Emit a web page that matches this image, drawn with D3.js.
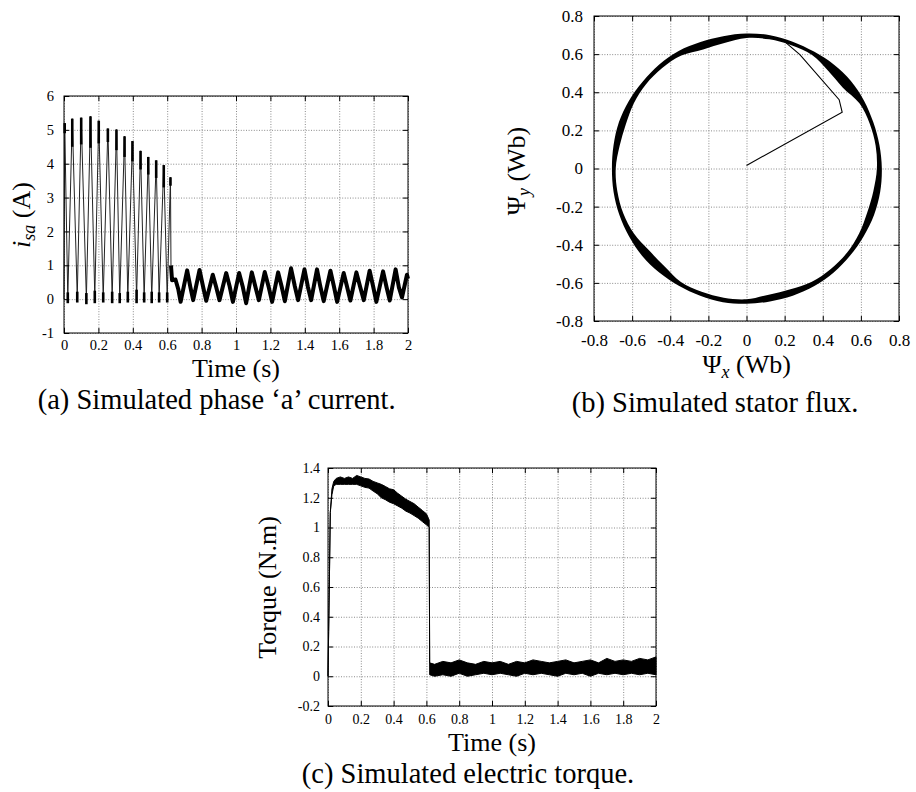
<!DOCTYPE html>
<html>
<head>
<meta charset="utf-8">
<script src="https://cdn.jsdelivr.net/npm/d3@7"></script>
<style>
body { margin: 0; background: #fff; }
svg { font-family: "Liberation Serif", "Times New Roman", Times, serif; }
</style>
</head>
<body>
<div id="chart"></div>
<script>
// (a) phase 'a' current, start-up part (peaks / troughs)
const curPeakT = [0.004, 0.048, 0.100, 0.154, 0.202, 0.255, 0.305, 0.352, 0.398, 0.445, 0.490, 0.536, 0.580, 0.619]
const curPeakV = [5.20, 5.33, 5.36, 5.40, 5.27, 5.04, 5.01, 4.81, 4.67, 4.38, 4.20, 4.10, 3.96, 3.60]
const curCapV = [4.90, 4.50, 4.57, 4.47, 4.60, 4.64, 4.40, 4.20, 4.07, 3.83, 3.68, 3.58, 3.30, 3.35]
const curTroughT = [0.022, 0.077, 0.130, 0.179, 0.228, 0.280, 0.324, 0.371, 0.422, 0.466, 0.510, 0.553, 0.600]
const curTroughLo = [-0.12, -0.10, -0.15, -0.12, -0.10, -0.12, -0.12, -0.10, -0.12, -0.10, -0.12, -0.10, -0.10]
const curTroughHi = [0.20, 0.22, 0.18, 0.25, 0.20, 0.22, 0.18, 0.22, 0.28, 0.20, 0.22, 0.20, 0.20]
// (a) steady part after 0.62 s
const curLateT = [0.622, 0.628, 0.648, 0.664, 0.678,
    0.716, 0.735, 0.751, 0.788, 0.808, 0.827, 0.865, 0.885, 0.904, 0.943, 0.963, 0.982,
    1.018, 1.040, 1.059, 1.092, 1.112, 1.133, 1.167, 1.190, 1.210, 1.245, 1.265, 1.284,
    1.320, 1.342, 1.361, 1.398, 1.418, 1.437, 1.471, 1.490, 1.510, 1.549, 1.570, 1.588,
    1.626, 1.645, 1.665, 1.700, 1.722, 1.743, 1.777, 1.797, 1.816, 1.855, 1.875, 1.894,
    1.928, 1.947, 1.965, 1.994, 2.000]
const curLateV = [1.00, 0.56, 0.58, 0.30, -0.08,
    0.85, 0.35, -0.03, 0.86, 0.38, -0.05, 0.72, 0.35, -0.03, 0.77, 0.38, -0.08,
    0.77, 0.35, -0.12, 0.79, 0.38, -0.03, 0.80, 0.36, -0.08, 0.79, 0.38, -0.06,
    0.91, 0.38, -0.03, 0.88, 0.36, -0.03, 0.88, 0.38, -0.06, 0.84, 0.36, -0.08,
    0.77, 0.38, -0.04, 0.79, 0.36, -0.03, 0.84, 0.38, -0.08, 0.82, 0.36, -0.04,
    0.88, 0.35, 0.05, 0.72, 0.60]

// (b) stator flux locus: outer / inner edge of the traced band, polar reading
const fluxAngle = [0, 10, 20, 30, 40, 50, 60, 70, 80, 90, 100, 110, 120, 130, 140, 150, 160, 170,
    180, 190, 200, 210, 220, 230, 240, 250, 260, 270, 280, 290, 300, 310, 320, 330, 340, 350]
const fluxOuter = [0.710, 0.708, 0.708, 0.712, 0.715, 0.712, 0.708, 0.708, 0.710, 0.708, 0.705, 0.706,
    0.712, 0.712, 0.710, 0.712, 0.712, 0.708, 0.706, 0.708, 0.710, 0.712, 0.714, 0.712,
    0.710, 0.710, 0.712, 0.710, 0.708, 0.710, 0.712, 0.712, 0.710, 0.710, 0.712, 0.712]
const fluxInner = [0.684, 0.688, 0.688, 0.684, 0.660, 0.668, 0.688, 0.688, 0.688, 0.684, 0.668, 0.665,
    0.684, 0.688, 0.688, 0.683, 0.674, 0.676, 0.686, 0.688, 0.688, 0.682, 0.668, 0.670,
    0.688, 0.688, 0.688, 0.686, 0.672, 0.674, 0.686, 0.688, 0.688, 0.682, 0.674, 0.676]
const fluxStartX = [0.0, 0.502, 0.486, 0.28, 0.20]
const fluxStartY = [0.016, 0.295, 0.361, 0.597, 0.666]

// (c) electric torque band (upper / lower edge)
const tqT = [0, 0.004, 0.008, 0.014, 0.024, 0.035, 0.05, 0.075, 0.1, 0.125, 0.15, 0.175, 0.2,
    0.225, 0.25, 0.275, 0.3, 0.325, 0.35, 0.375, 0.4, 0.425, 0.45, 0.475, 0.5, 0.525, 0.55,
    0.575, 0.6, 0.612, 0.617, 0.620,
    0.65, 0.7, 0.75, 0.8, 0.85, 0.9, 0.95, 1.0, 1.05, 1.1, 1.15, 1.2, 1.25, 1.3, 1.35, 1.4,
    1.45, 1.5, 1.55, 1.6, 1.65, 1.7, 1.75, 1.8, 1.85, 1.9, 1.95, 2.0]
const tqHi = [0, 0.3, 0.6, 1.1, 1.26, 1.31, 1.33, 1.34, 1.33, 1.34, 1.33, 1.35, 1.34,
    1.33, 1.326, 1.31, 1.30, 1.29, 1.276, 1.26, 1.254, 1.23, 1.21, 1.19, 1.175, 1.16, 1.137,
    1.115, 1.092, 1.063, 1.05, 0.09,
    0.08, 0.10, 0.09, 0.11, 0.09, 0.08, 0.10, 0.09, 0.10, 0.08, 0.10, 0.09, 0.11, 0.10, 0.09, 0.10,
    0.11, 0.09, 0.10, 0.11, 0.09, 0.12, 0.10, 0.11, 0.10, 0.12, 0.11, 0.13]
const tqLo = [0, 0.3, 0.6, 1.1, 1.22, 1.28, 1.29, 1.29, 1.29, 1.29, 1.29, 1.29, 1.28,
    1.27, 1.265, 1.245, 1.227, 1.20, 1.187, 1.17, 1.16, 1.145, 1.13, 1.11, 1.097, 1.08, 1.063,
    1.04, 1.018, 1.007, 1.0, 0.01,
    0.00, 0.01, 0.00, 0.02, 0.00, 0.01, 0.02, 0.01, 0.02, 0.01, 0.00, 0.02, 0.01, 0.02, 0.01, 0.00,
    0.02, 0.01, 0.02, 0.00, 0.02, 0.01, 0.02, 0.01, 0.02, 0.01, 0.02, 0.01]

// tick values
const timeTicks = [0, 0.2, 0.4, 0.6, 0.8, 1, 1.2, 1.4, 1.6, 1.8, 2]
const curTicks = [-1, 0, 1, 2, 3, 4, 5, 6]
const fluxTicks = [-0.8, -0.6, -0.4, -0.2, 0, 0.2, 0.4, 0.6, 0.8]
const tqTicks = [-0.2, 0, 0.2, 0.4, 0.6, 0.8, 1, 1.2, 1.4]

const width = 916, height = 792
const svg = d3.select('#chart').append('svg')
    .attr('width', width)
    .attr('height', height)

function panel(box, xDom, yDom, xTicks, yTicks, fontSize, padX, padY) {
    const x = d3.scaleLinear().domain(xDom).range([box.left, box.right])
    const y = d3.scaleLinear().domain(yDom).range([box.bottom, box.top])
    const h = box.bottom - box.top
    const w = box.right - box.left
    const g = svg.append('g')
    const fmt = d => String(d)

    // dotted grid
    g.append('g')
        .attr('transform', 'translate(0,' + box.bottom + ')')
        .call(d3.axisBottom(x).tickValues(xTicks).tickSize(-h).tickFormat(''))
        .call(a => a.select('.domain').remove())
        .selectAll('line').attr('stroke', '#8a8a8a').attr('stroke-dasharray', '1,1.6')
    g.append('g')
        .attr('transform', 'translate(' + box.left + ',0)')
        .call(d3.axisLeft(y).tickValues(yTicks).tickSize(-w).tickFormat(''))
        .call(a => a.select('.domain').remove())
        .selectAll('line').attr('stroke', '#8a8a8a').attr('stroke-dasharray', '1,1.6')

    const layer = g.append('g')

    // inward ticks on all four sides
    const bottom = g.append('g')
        .attr('transform', 'translate(0,' + box.bottom + ')')
        .call(d3.axisBottom(x).tickValues(xTicks).tickSize(-5).tickPadding(padX).tickFormat(fmt))
    const left = g.append('g')
        .attr('transform', 'translate(' + box.left + ',0)')
        .call(d3.axisLeft(y).tickValues(yTicks).tickSize(-5).tickPadding(padY).tickFormat(fmt))
    g.append('g')
        .attr('transform', 'translate(0,' + box.top + ')')
        .call(d3.axisTop(x).tickValues(xTicks).tickSize(-5).tickFormat(''))
    g.append('g')
        .attr('transform', 'translate(' + box.right + ',0)')
        .call(d3.axisRight(y).tickValues(yTicks).tickSize(-5).tickFormat(''))
    g.selectAll('.domain').remove()
    g.selectAll('.tick line').filter(function () { return this.getAttribute('stroke-dasharray') === null })
        .attr('stroke', '#000')
    ;[bottom, left].forEach(a => a
        .attr('font-family', null)
        .attr('font-size', fontSize)
        .selectAll('text').attr('fill', '#000'))

    g.append('rect')
        .attr('x', box.left)
        .attr('y', box.top)
        .attr('width', w)
        .attr('height', h)
        .attr('fill', 'none')
        .attr('stroke', '#000')
        .attr('stroke-width', 1)
    return { x, y, layer }
}

// ---------- (a) ----------
const pa = panel({ left: 64, right: 408, top: 96, bottom: 333 }, [0, 2], [-1, 6], timeTicks, curTicks, 14.5, 7, 10)
let curPts = [[0, 0]]
curPeakT.forEach((t, i) => {
    curPts.push([t, curPeakV[i]])
    if (i < curTroughT.length) curPts.push([curTroughT[i], (curTroughLo[i] + curTroughHi[i]) / 2])
})
curPts.push([curLateT[0], curLateV[0]])
pa.layer.append('path')
    .datum(curPts)
    .attr('d', d3.line().x(d => pa.x(d[0])).y(d => pa.y(d[1])))
    .attr('fill', 'none')
    .attr('stroke', '#222')
    .attr('stroke-width', 1)
pa.layer.selectAll('.cap')
    .data(curPeakT)
    .join('line')
    .attr('x1', d => pa.x(d)).attr('x2', d => pa.x(d))
    .attr('y1', (d, i) => pa.y(curCapV[i])).attr('y2', (d, i) => pa.y(curPeakV[i]))
    .attr('stroke', '#000')
    .attr('stroke-width', 2.6)
pa.layer.selectAll('.trough')
    .data(curTroughT)
    .join('line')
    .attr('x1', d => pa.x(d)).attr('x2', d => pa.x(d))
    .attr('y1', (d, i) => pa.y(curTroughLo[i])).attr('y2', (d, i) => pa.y(curTroughHi[i]))
    .attr('stroke', '#000')
    .attr('stroke-width', 2.6)
pa.layer.append('path')
    .datum(curLateT.map((t, i) => [t, curLateV[i]]))
    .attr('d', d3.line().x(d => pa.x(d[0])).y(d => pa.y(d[1])))
    .attr('fill', 'none')
    .attr('stroke', '#000')
    .attr('stroke-width', 4)
    .attr('stroke-linejoin', 'round')

svg.append('text')
    .attr('x', 236).attr('y', 377)
    .attr('text-anchor', 'middle')
    .attr('font-size', 26)
    .text('Time (s)')
const ya = svg.append('text')
    .attr('transform', 'translate(29.6,215) rotate(-90)')
    .attr('text-anchor', 'middle')
    .attr('font-size', 26)
ya.append('tspan').attr('font-style', 'italic').text('i')
ya.append('tspan').attr('font-style', 'italic').attr('font-size', 18).attr('dy', 5).text('sa')
ya.append('tspan').attr('dy', -5).text(' (A)')
svg.append('text')
    .attr('x', 216.7).attr('y', 409)
    .attr('text-anchor', 'middle')
    .attr('font-size', 28.5)
    .text('(a) Simulated phase ‘a’ current.')

// ---------- (b) ----------
const pb = panel({ left: 594, right: 899, top: 16, bottom: 321 }, [-0.8, 0.8], [-0.8, 0.8], fluxTicks, fluxTicks, 17, 13, 11)
const toXY = (r, a) => [r * Math.cos(a * Math.PI / 180), r * Math.sin(a * Math.PI / 180)]
const ringLine = d3.line().x(d => pb.x(d[0])).y(d => pb.y(d[1])).curve(d3.curveCardinalClosed)
const outerPts = fluxAngle.map((a, i) => toXY(fluxOuter[i], a))
const innerPts = fluxAngle.map((a, i) => toXY(fluxInner[i], a))
pb.layer.append('path')
    .attr('d', ringLine(outerPts) + ringLine(innerPts))
    .attr('fill', '#000')
    .attr('fill-rule', 'evenodd')
pb.layer.append('path')
    .datum(fluxStartX.map((v, i) => [v, fluxStartY[i]]))
    .attr('d', d3.line().x(d => pb.x(d[0])).y(d => pb.y(d[1])))
    .attr('fill', 'none')
    .attr('stroke', '#000')
    .attr('stroke-width', 1.1)

const xb = svg.append('text')
    .attr('x', 746.7).attr('y', 373)
    .attr('text-anchor', 'middle')
    .attr('font-size', 26)
xb.append('tspan').text('Ψ')
xb.append('tspan').attr('font-style', 'italic').attr('font-size', 18).attr('dy', 5).text('x')
xb.append('tspan').attr('dy', -5).text(' (Wb)')
const yb = svg.append('text')
    .attr('transform', 'translate(524.6,171) rotate(-90)')
    .attr('text-anchor', 'middle')
    .attr('font-size', 26)
yb.append('tspan').text('Ψ')
yb.append('tspan').attr('font-style', 'italic').attr('font-size', 18).attr('dy', 5).text('y')
yb.append('tspan').attr('dy', -5).text(' (Wb)')
svg.append('text')
    .attr('x', 715).attr('y', 412)
    .attr('text-anchor', 'middle')
    .attr('font-size', 28.5)
    .text('(b) Simulated stator flux.')

// ---------- (c) ----------
const pc = panel({ left: 328, right: 656, top: 468, bottom: 706 }, [0, 2], [-0.2, 1.4], timeTicks, tqTicks, 14, 8, 8)
const tqPts = tqT.map((t, i) => ({ t: t, hi: tqHi[i], lo: tqLo[i] }))
pc.layer.append('path')
    .datum(tqPts)
    .attr('d', d3.area().x(d => pc.x(d.t)).y0(d => pc.y(d.lo)).y1(d => pc.y(d.hi)))
    .attr('fill', '#000')
    .attr('stroke', '#000')
    .attr('stroke-width', 1)
    .attr('stroke-linejoin', 'round')

svg.append('text')
    .attr('x', 492).attr('y', 751)
    .attr('text-anchor', 'middle')
    .attr('font-size', 26)
    .text('Time (s)')
svg.append('text')
    .attr('transform', 'translate(276,587.5) rotate(-90)')
    .attr('text-anchor', 'middle')
    .attr('font-size', 26)
    .text('Torque (N.m)')
svg.append('text')
    .attr('x', 468).attr('y', 783)
    .attr('text-anchor', 'middle')
    .attr('font-size', 28.5)
    .text('(c) Simulated electric torque.')
</script>
</body>
</html>
